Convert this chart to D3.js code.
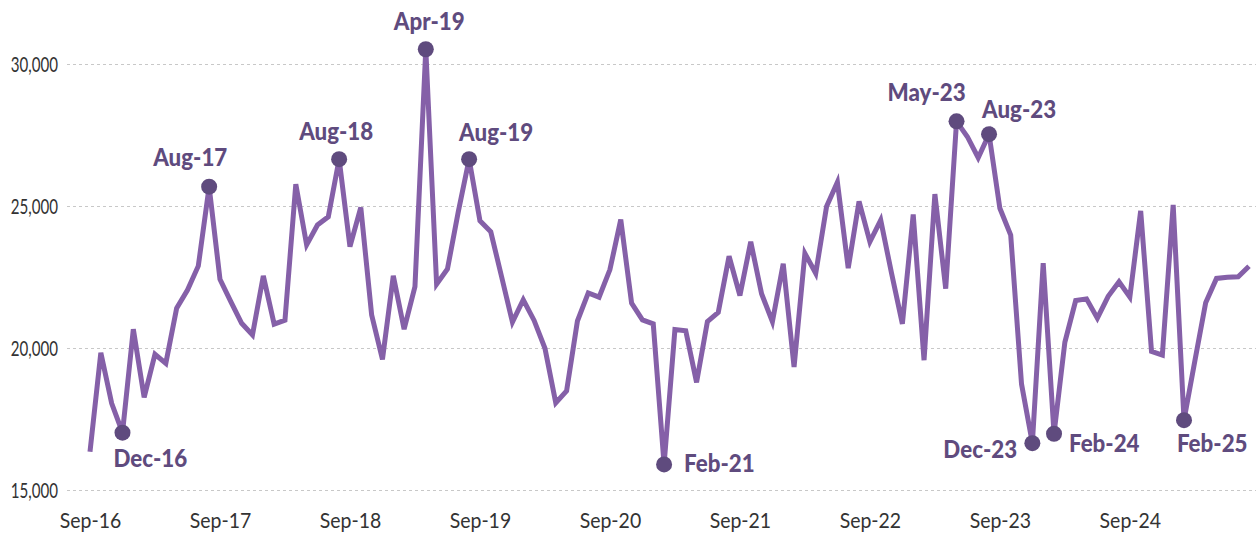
<!DOCTYPE html>
<html>
<head>
<meta charset="utf-8">
<script src="https://cdn.jsdelivr.net/npm/d3@7"></script>
<style>
  body { margin: 0; background: #fff; }
  svg { display: block; }
</style>
</head>
<body>
<div id="chart"></div>
<script>
// monthly values, Sep-16 .. Aug-25
const values = [
    16350, 19830, 18050, 17020,                                                  // 2016
    20660, 18260, 19780, 19460, 21400, 22040, 22890, 25680, 22420, 21630, 20870, 20460, // 2017
    22540, 20840, 20980, 25770, 23630, 24330, 24620, 26650, 23570, 24950, 21170, 19600, // 2018
    22540, 20660, 22160, 30520, 22250, 22780, 24800, 26650, 24480, 24090, 22510, 20910, // 2019
    21700, 20970, 19990, 18070, 18490, 20950, 21940, 21790, 22760, 24520, 21580, 20990, // 2020
    20850, 15900, 20650, 20610, 18790, 20930, 21250, 23230, 21850, 23740, 21910, 20930, // 2021
    22970, 19330, 23330, 22630, 24980, 25840, 22810, 25160, 23740, 24500, 22630, 20850, // 2022
    24700, 19570, 25420, 22090, 27980, 27440, 26700, 27530, 24920, 23980, 18730, 16650, // 2023
    22990, 16980, 20200, 21670, 21730, 21050, 21820, 22330, 21790, 24830, 19880, 19750, // 2024
    25040, 17460, 19540, 21590, 22450, 22490, 22510, 22880                               // 2025
];

const monthLabels = d3.timeMonth
    .range(new Date(2016, 8, 1), new Date(2025, 8, 1))
    .map(d3.timeFormat('%b-%y'));

const xTicks = ['Sep-16', 'Sep-17', 'Sep-18', 'Sep-19', 'Sep-20', 'Sep-21', 'Sep-22', 'Sep-23', 'Sep-24'];
const yTicks = [15000, 20000, 25000, 30000];

// highlighted months and where their labels sit relative to the dot
const highlights = ['Dec-16', 'Aug-17', 'Aug-18', 'Apr-19', 'Aug-19', 'Feb-21', 'May-23', 'Aug-23', 'Dec-23', 'Feb-24', 'Feb-25'];
const labelOffsets = [
    [-9, 34], [-56, -21], [-40, -19], [-32, -19], [-10, -18], [20, 8],
    [-69, -20], [-7, -16], [-89, 15], [15, 18], [-7, 32]
];

let width = 1256;
let height = 535;

const lineColor = '#8560a8';
const dotColor = '#5f4b7e';

let svg = d3.select('#chart')
    .append('svg')
    .attr('width', width)
    .attr('height', height);

const x = d3.scalePoint()
    .domain(monthLabels)
    .range([90, 1249]);

const y = d3.scaleLinear()
    .domain([15000, 30000])
    .range([490, 64]);

// y gridlines + labels
const yScaleX = 0.72;
svg.append('g')
    .attr('transform', 'translate(67,0)')
    .call(d3.axisLeft(y)
        .tickValues(yTicks)
        .tickSize(-(width - 67))
        .tickPadding(9)
        .tickFormat(d3.format(',')))
    .call(g => g.select('.domain').remove())
    .call(g => g.selectAll('.tick line')
        .attr('stroke', '#c8c8c8')
        .attr('stroke-dasharray', '3,3'))
    .call(g => g.selectAll('.tick text')
        .attr('x', -9 / yScaleX)
        .attr('dy', '0.36em')
        .attr('transform', `scale(${yScaleX},1)`)
        .style('font-family', 'Lato, sans-serif')
        .style('font-size', '21px')
        .style('fill', '#333'));

// x labels
svg.append('g')
    .attr('transform', 'translate(0,513.5)')
    .call(d3.axisBottom(x)
        .tickValues(xTicks)
        .tickSize(0)
        .tickPadding(0))
    .call(g => g.select('.domain').remove())
    .call(g => g.selectAll('.tick text')
        .attr('transform', 'scale(0.95,1)')
        .style('font-family', 'Lato, sans-serif')
        .style('font-size', '20.5px')
        .style('fill', '#333'));

// axisBottom puts each label at x=0 inside its tick group, so scaling keeps the centre

// the line
const line = d3.line()
    .x((d, i) => x(monthLabels[i]))
    .y(d => y(d));

svg.append('path')
    .datum(values)
    .attr('d', line)
    .style('fill', 'none')
    .style('stroke', lineColor)
    .style('stroke-width', 5);

// dots and labels
let points = highlights.map((m, k) => {
    let i = monthLabels.indexOf(m);
    return { name: m, x: x(m), y: y(values[i]), dx: labelOffsets[k][0], dy: labelOffsets[k][1] };
});

svg.append('g')
    .selectAll('circle')
    .data(points)
    .join('circle')
    .attr('cx', d => d.x)
    .attr('cy', d => d.y)
    .attr('r', 8)
    .style('fill', dotColor);

svg.append('g')
    .selectAll('text')
    .data(points)
    .join('text')
    .attr('transform', d => `translate(${d.x + d.dx},${d.y + d.dy}) scale(0.93,1)`)
    .text(d => d.name)
    .style('font-family', 'Lato, sans-serif')
    .style('font-weight', 900)
    .style('font-size', '24px')
    .style('fill', dotColor);
</script>
</body>
</html>
